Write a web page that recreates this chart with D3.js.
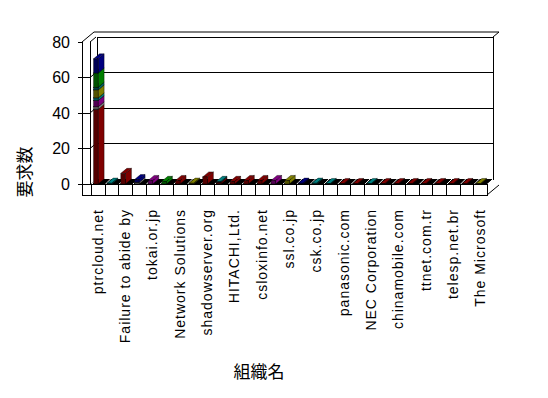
<!DOCTYPE html>
<html>
<head>
<meta charset="utf-8">
<script src="https://cdn.jsdelivr.net/npm/d3@7"></script>
<style>
  body { margin: 0; background: #fff; }
  text { font-family: "Liberation Sans", Arial, sans-serif; fill: #000; }
</style>
</head>
<body>
<script>
'use strict';

const w = 548;
const h = 398;

// category labels (only every other one is printed on the axis)
const categories = [
  'ptrcloud.net', '', 'Failure to abide by', '', 'tokai.or.jp', '',
  'Network Solutions', '', 'shadowserver.org', '', 'HITACHI,Ltd.', '',
  'csloxinfo.net', '', 'ssl.co.jp', '', 'csk.co.jp', '', 'panasonic.com', '',
  'NEC Corporation', '', 'chinamobile.com', '', 'ttnet.com.tr', '',
  'telesp.net.br', '', 'The Microsoft'
];
const seriesNames = ['系列1', '系列2', '系列3', '系列4', '系列5', '系列6', '系列7', '系列8'];
const seriesColors = ['#800000', '#808080', '#800080', '#008080', '#808000', '#006666', '#008000', '#000080'];
// values per series, one entry per category
const s1 = [42, 0, 6, 0, 0, 0, 2, 0, 4, 1, 1.5, 2, 2, 0, 0, 0, 0, 0, 0.3, 0.3, 0, 0.3, 0.3, 0.3, 0.3, 0.3, 0.3, 0.3, 0];
const s2 = [1.5, 0, 0, 1, 0, 0, 0, 0, 0, 0, 0, 0, 0, 0, 0, 0, 0, 0, 0, 0, 0, 0, 0, 0, 0, 0, 0, 0, 0];
const s3 = [3.5, 0, 0, 0, 2, 0, 0, 0, 0, 0, 0, 0, 0, 2, 0, 0, 0, 0, 0, 0, 0, 0, 0, 0, 0, 0, 0, 0, 0];
const s4 = [1.5, 0.5, 0, 0, 0, 0, 0, 0, 0, 0.5, 0, 0, 0, 0, 0, 0, 0.5, 0.3, 0, 0, 0.3, 0, 0, 0, 0, 0, 0, 0, 0];
const s5 = [4.5, 0, 0, 0, 0, 0, 0, 0.5, 0, 0, 0, 0, 0, 0, 2, 0, 0, 0, 0, 0, 0, 0, 0, 0, 0, 0, 0, 0, 0.3];
const s6 = [1.5, 0, 0, 0, 0, 0, 0, 0, 0, 0, 0, 0, 0, 0, 0, 0, 0, 0, 0, 0, 0, 0, 0, 0, 0, 0, 0, 0, 0];
const s7 = [8, 0, 0, 0, 0, 1.5, 0, 0, 0, 0, 0, 0, 0, 0, 0, 0, 0, 0, 0, 0, 0, 0, 0, 0, 0, 0, 0, 0, 0];
const s8 = [8, 0, 0, 1.5, 0, 0, 0, 0, 0, 0, 0, 0, 0, 0, 0, 0.5, 0, 0, 0, 0, 0, 0, 0, 0, 0, 0, 0, 0, 0];
const seriesValues = [s1, s2, s3, s4, s5, s6, s7, s8];
const yTicks = [0, 20, 40, 60, 80];

// 3d offset of the wall / floor depth
const dx = 6;
const dy = -5;

const svg = d3.select('body').append('svg').attr('width', w).attr('height', h);

const x = d3.scaleBand().domain(d3.range(categories.length)).range([91, 487]).paddingInner(0);
const y = d3.scaleLinear().domain([0, 80]).range([184, 42]);

const line = (x1, y1, x2, y2) => svg.append('line')
  .attr('x1', x1).attr('y1', y1).attr('x2', x2).attr('y2', y2)
  .attr('stroke', '#000').attr('stroke-width', 1).attr('shape-rendering', 'crispEdges');

// back wall
const bx0 = x.range()[0] + dx, bx1 = x.range()[1] + dx;
svg.append('rect').attr('x', bx0).attr('y', y(80) + dy)
  .attr('width', bx1 - bx0).attr('height', y(0) - y(80))
  .attr('fill', '#fff').attr('stroke', '#000').attr('shape-rendering', 'crispEdges');

// gridlines: left wall front tick, left wall inner face, back wall
yTicks.filter(d => d > 0 && d < 80).forEach(d => {
  line(78, y(d), 90, y(d));
  line(90, y(d), 90 + dx, y(d) + dy).attr('shape-rendering', null);
  line(bx0, y(d) + dy, bx1, y(d) + dy);
});
line(78, y(80), 82, y(80));
line(78, y(0), 82, y(0));

// wall thickness on top
svg.append('path')
  .attr('d', `M82,${y(80)} L${82 + 2 * dx},${y(80) + 2 * dy} L${bx1 + dx},${y(80) + 2 * dy} L${bx1},${y(80) + dy}`)
  .attr('fill', 'none').attr('stroke', '#000');
line(90, y(80), 90 + dx, y(80) + dy).attr('shape-rendering', null);
line(82, y(80), 82, 195);
line(90, y(80), 90, y(0));

// floor (black top face)
svg.append('path')
  .attr('d', `M${x.range()[0]},${y(0)} L${x.range()[0] + dx},${y(0) + dy} L${bx1},${y(0) + dy} L${x.range()[1]},${y(0)} Z`)
  .attr('fill', '#000');
d3.range(categories.length + 1).forEach(i => {
  const xt = x.range()[0] + i * x.step();
  line(xt + 1, y(0), xt + dx, y(0) + dy).attr('stroke', '#fff').attr('shape-rendering', null);
});

// floor front edge with category ticks
svg.append('rect').attr('x', 82).attr('y', y(0)).attr('width', x.range()[1] - 82).attr('height', 11)
  .attr('fill', '#fff').attr('stroke', '#000').attr('shape-rendering', 'crispEdges');
d3.range(categories.length + 1).forEach(i => {
  const xt = Math.round(x.range()[0] + i * x.step());
  line(xt, y(0), xt, y(0) + 11);
});
line(x.range()[1], y(0) + 11, x.range()[1] + 2 * dx, y(0) + 11 + 2 * dy).attr('shape-rendering', null);

// stacked 3d columns
const stack = d3.stack().keys(d3.range(seriesValues.length))
  .value((d, k) => seriesValues[k][d]);
const layers = stack(d3.range(categories.length));
const bw = x.bandwidth() / 3;

layers.forEach((layer, k) => {
  const col = seriesColors[k];
  const g = svg.append('g').attr('class', 'series').attr('data-name', seriesNames[k]);
  layer.forEach((d, i) => {
    if (d[1] - d[0] <= 0) return;
    const x0 = x(i) + (x.bandwidth() - bw) / 2 - 2;
    const x1 = x0 + bw;
    const yt = y(d[1]), yb = y(d[0]);
    // side face
    g.append('path')
      .attr('d', `M${x1},${yt} L${x1 + dx},${yt + dy} L${x1 + dx},${yb + dy} L${x1},${yb} Z`)
      .attr('fill', col).attr('stroke', '#000').attr('stroke-width', 0.4);
    // top face
    g.append('path')
      .attr('d', `M${x0},${yt} L${x0 + dx},${yt + dy} L${x1 + dx},${yt + dy} L${x1},${yt} Z`)
      .attr('fill', col).attr('stroke', '#000').attr('stroke-width', 0.4);
    // front face, shaded dark
    g.append('rect').attr('x', x0).attr('y', yt).attr('width', bw).attr('height', yb - yt)
      .attr('fill', d3.color(col).darker(1.2)).attr('stroke', '#000').attr('stroke-width', 0.4);
  });
});

// y axis labels
svg.selectAll('.ylab')
  .data(yTicks)
  .enter()
  .append('text')
  .attr('class', 'ylab')
  .attr('x', 70)
  .attr('y', d => y(d))
  .attr('dy', '0.36em')
  .attr('text-anchor', 'end')
  .attr('font-size', 16)
  .text(d => d);

// category labels, rotated
svg.selectAll('.xlab')
  .data(categories.map((c, i) => ({ c, i })).filter(d => d.c !== ''))
  .enter()
  .append('text')
  .attr('class', 'xlab')
  .attr('transform', d => `translate(${x(d.i) + x.bandwidth() / 2 + 5},209) rotate(-90)`)
  .attr('text-anchor', 'end')
  .attr('font-size', 14)
  .attr('letter-spacing', 1)
  .text(d => d.c);

// axis titles
svg.append('text')
  .attr('transform', 'translate(31,172) rotate(-90)')
  .attr('text-anchor', 'middle')
  .attr('font-size', 17)
  .style('font-family', '"Noto Sans CJK JP", sans-serif')
  .text('要求数');

svg.append('text')
  .attr('x', 259)
  .attr('y', 378)
  .attr('text-anchor', 'middle')
  .attr('font-size', 17)
  .style('font-family', '"Noto Sans CJK JP", sans-serif')
  .text('組織名');
</script>
</body>
</html>
